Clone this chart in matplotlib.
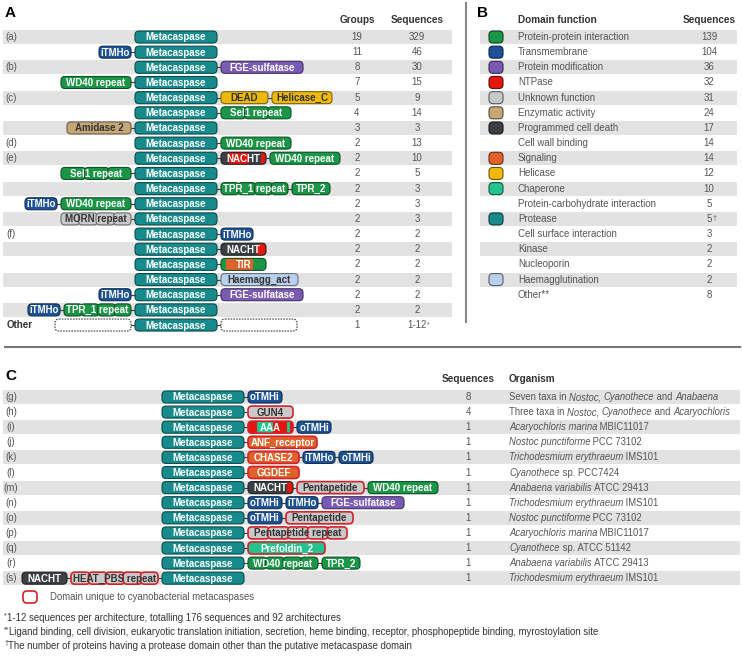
import matplotlib
matplotlib.use('Agg')
import matplotlib.pyplot as plt
from matplotlib.patches import FancyBboxPatch, Rectangle
from matplotlib.colors import to_rgb

plt.rcParams['font.family'] = ['Liberation Sans', 'DejaVu Sans']

# ---------------- data ----------------
# panel A: architectures (domains left / right of the metacaspase domain)
a_tags = ['(a)', '', '(b)', '', '(c)', '', '', '(d)', '(e)', '', '', '', '',
          '(f)', '', '', '', '', '', 'Other']
a_left = [[], ['iTMHo'], [], ['WD40 repeat'], [], [], ['Amidase 2'], [], [],
          ['Sel1 repeat'], [], ['iTMHo', 'WD40 repeat'], ['MORN repeat'], [],
          [], [], [], ['iTMHo'], ['iTMHo', 'TPR_1 repeat'], ['other']]
a_right = [[], [], ['FGE-sulfatase'], [], ['DEAD', 'Helicase_C'], ['Sel1 repeat'],
           [], ['WD40 repeat'], ['NACHT.e', 'WD40 repeat'], [],
           ['TPR_1 repeat', 'TPR_2'], [], [], ['iTMHo'], ['NACHT.f'], ['TIR'],
           ['Haemagg_act'], ['FGE-sulfatase'], [], ['other']]
a_groups = ['19', '11', '8', '7', '5', '4', '3', '2', '2', '2', '2', '2', '2',
            '2', '2', '2', '2', '2', '2', '1']
a_seqs = ['329', '46', '30', '15', '9', '14', '3', '13', '10', '5', '3', '3', '3',
          '2', '2', '2', '2', '2', '2', '1-12']

# panel B: domain functions
b_names = ['Protein-protein interaction', 'Transmembrane', 'Protein modification',
           'NTPase', 'Unknown function', 'Enzymatic activity',
           'Programmed cell death', 'Cell wall binding', 'Signaling', 'Helicase',
           'Chaperone', 'Protein-carbohydrate interaction', 'Protease',
           'Cell surface interaction', 'Kinase', 'Nucleoporin',
           'Haemagglutination', 'Other**']
b_seqs = ['139', '104', '36', '32', '31', '24', '17', '14', '14', '12', '10', '5',
          '5', '3', '2', '2', '2', '8']
b_colors = ['#1a9646', '#1d5396', '#7a5bb4', '#e3170f', '#c9c9c9', '#c6a878',
            '#3c3f43', None, '#e0612a', '#ecb90c', '#22c38c', None, '#178a8c',
            None, None, None, '#b9d0ec', None]

# panel C: cyanobacteria-specific architectures
c_tags = ['(g)', '(h)', '(i)', '(j)', '(k)', '(l)', '(m)', '(n)', '(o)', '(p)',
          '(q)', '(r)', '(s)']
c_left = [[], [], [], [], [], [], [], [], [], [], [], [],
          ['NACHT', 'HEAT_PBS repeat']]
c_right = [['oTMHi'], ['GUN4'], ['AAA', 'oTMHi'], ['ANF_receptor'],
           ['CHASE2', 'iTMHo', 'oTMHi'], ['GGDEF'],
           ['NACHT.m', 'Pentapetide', 'WD40 repeat'],
           ['oTMHi', 'iTMHo', 'FGE-sulfatase'], ['oTMHi', 'Pentapetide'],
           ['Pentapetide repeat'], ['Prefoldin_2'], ['WD40 repeat.r', 'TPR_2'], []]
c_seqs = ['8', '4', '1', '1', '1', '1', '1', '1', '1', '1', '1', '1', '1']
c_org = [
    [('Seven taxa in ', 'normal'), ('Nostoc, ', 'italic'),
     ('Cyanothece', 'italic'), (' and ', 'normal'), ('Anabaena', 'italic')],
    [('Three taxa in ', 'normal'), ('Nostoc, ', 'italic'),
     ('Cyanothece', 'italic'), (' and ', 'normal'), ('Acaryochloris', 'italic')],
    [('Acaryochloris marina', 'italic'), (' MBIC11017', 'normal')],
    [('Nostoc punctiforme', 'italic'), (' PCC 73102', 'normal')],
    [('Trichodesmium erythraeum', 'italic'), (' IMS101', 'normal')],
    [('Cyanothece', 'italic'), (' sp. PCC7424', 'normal')],
    [('Anabaena variabilis', 'italic'), (' ATCC 29413', 'normal')],
    [('Trichodesmium erythraeum', 'italic'), (' IMS101', 'normal')],
    [('Nostoc punctiforme', 'italic'), (' PCC 73102', 'normal')],
    [('Acaryochloris marina', 'italic'), (' MBIC11017', 'normal')],
    [('Cyanothece', 'italic'), (' sp. ATCC 51142', 'normal')],
    [('Anabaena variabilis', 'italic'), (' ATCC 29413', 'normal')],
    [('Trichodesmium erythraeum', 'italic'), (' IMS101', 'normal')],
]

footnotes = [('*', '1-12 sequences per architecture, totalling 176 sequences and 92 architectures'),
             ('**', 'Ligand binding, cell division, eukaryotic translation initiation, secretion, heme binding, receptor, phosphopeptide binding, myrostoylation site'),
             ('\u2020', 'The number of proteins having a protease domain other than the putative metacaspase domain')]

# ---------------- domain styles ----------------
TEAL, BLUE, GREEN, PURPLE = '#178a8c', '#1d5396', '#1a9646', '#7a5bb4'
RED, ORANGE, GREY, DARK = '#e3170f', '#e0612a', '#c9c9c9', '#3c3f43'
UNIQ = '#d2222b'
DOM = {
    'Metacaspase': dict(w=82, fc=TEAL),
    'iTMHo': dict(w=32, fc=BLUE),
    'oTMHi': dict(w=34, fc=BLUE),
    'FGE-sulfatase': dict(w=82, fc=PURPLE),
    'WD40 repeat': dict(w=70, fc=GREEN),
    'WD40 repeat.r': dict(w=70, fc=GREEN, n=4),
    'Sel1 repeat': dict(w=70, fc=GREEN, n=3),
    'TPR_1 repeat': dict(w=67, fc=GREEN, n=4),
    'TPR_2': dict(w=38, fc=GREEN),
    'DEAD': dict(w=47, fc='#ecb90c', tc='#333'),
    'Helicase_C': dict(w=60, fc='#ecb90c', tc='#333'),
    'Amidase 2': dict(w=64, fc='#c6a878', tc='#333'),
    'MORN repeat': dict(w=70, fc=GREY, tc='#333', n=4),
    'NACHT': dict(w=45, fc=DARK),
    'NACHT.e': dict(w=45, fc=DARK, seg=[(0.17, 0.62, RED), (0.88, 1.0, RED)]),
    'NACHT.f': dict(w=45, fc=DARK, seg=[(0.8, 1.0, RED)]),
    'NACHT.m': dict(w=45, fc=DARK, seg=[(0.86, 1.0, RED)]),
    'TIR': dict(w=45, fc=GREEN, seg=[(0.12, 0.7, ORANGE)]),
    'Haemagg_act': dict(w=77, fc='#b9d0ec', tc='#333'),
    'GUN4': dict(w=45, fc=GREY, tc='#333', ec=UNIQ),
    'AAA': dict(w=45, fc=RED, ec=UNIQ, seg=[(0.19, 0.55, '#22c38c'), (0.86, 0.94, '#22c38c')]),
    'ANF_receptor': dict(w=69, fc=ORANGE, ec=UNIQ),
    'CHASE2': dict(w=51, fc=ORANGE, ec=UNIQ),
    'GGDEF': dict(w=51, fc=ORANGE, ec=UNIQ),
    'Pentapetide': dict(w=67, fc=GREY, tc='#333', ec=UNIQ),
    'Pentapetide repeat': dict(w=99, fc=GREY, tc='#333', ec=UNIQ, n=5),
    'Prefoldin_2': dict(w=77, fc='#22c38c', ec=UNIQ),
    'HEAT_PBS repeat': dict(w=87, fc=GREY, tc='#333', ec=UNIQ, n=5),
    'other': dict(w=76, fc='white', ec='#444', ls=(0, (1.5, 1)), label=''),
}

W, H = 742, 658
fig = plt.figure(figsize=(W / 100, H / 100), dpi=100)
ax = fig.add_axes([0, 0, 1, 1])
ax.set_xlim(0, W)
ax.set_ylim(H, 0)
ax.axis('off')
renderer = fig.canvas.get_renderer()

TXT = '#555555'
HDR = '#333333'
BAND = '#e2e2e2'
BH = 12      # domain box height
GAP = 4      # gap between domains
FS = 7.0     # table text
DFS = 7.0    # domain label


def measure(s, **kw):
    t1 = ax.text(0, 0, 'H' + s + 'H', **kw)
    t2 = ax.text(0, 0, 'HH', **kw)
    w = t1.get_window_extent(renderer).width - t2.get_window_extent(renderer).width
    t1.remove()
    t2.remove()
    return w


def darker(c, f=0.55):
    r, g, b = to_rgb(c)
    return (r * f, g * f, b * f)


def box(x, yc, w, fc, ec, lw=0.8, ls='solid', z=3):
    p = FancyBboxPatch((x, yc - BH / 2), w, BH, boxstyle='round,pad=0,rounding_size=4',
                       fc=fc, ec=ec, lw=lw, ls=ls, zorder=z)
    ax.add_patch(p)
    return p


def domain(name, x, yc):
    st = DOM[name]
    w = st['w']
    fc = st['fc']
    ec = st.get('ec', darker(fc))
    lw = 1.2 if st.get('ec') == UNIQ else 0.8
    n = st.get('n', 1)
    if n > 1:
        sw = w / n
        for k in range(n):
            box(x + k * sw, yc, sw + 1.5 if k < n - 1 else sw, fc, ec, lw=lw, z=3 + k * 0.01)
    else:
        base = box(x, yc, w, fc, 'none', lw=0)
        for f0, f1, c in st.get('seg', []):
            r = Rectangle((x + f0 * w, yc - BH / 2), (f1 - f0) * w, BH, fc=c, lw=0, zorder=3.1)
            ax.add_patch(r)
            r.set_clip_path(base)
        box(x, yc, w, 'none', ec, lw=lw, ls=st.get('ls', 'solid'), z=3.2)
    label = st.get('label', name.split('.')[0])
    if label:
        tw = measure(label, fontsize=DFS, fontweight='bold')
        fs = min(DFS, DFS * (w - 2.5) / tw)
        ax.text(x + w / 2, yc + 0.5, label, ha='center', va='center', fontsize=fs,
                fontweight='bold', color=st.get('tc', 'white'), zorder=4)
    return w


def architecture(left, right, mx, yc):
    domain('Metacaspase', mx, yc)
    x = mx + DOM['Metacaspase']['w']
    for d in right:
        ax.plot([x, x + GAP], [yc, yc], color='#444', lw=0.9, zorder=2)
        x += GAP
        x += domain(d, x, yc)
    x = mx
    for d in reversed(left):
        ax.plot([x - GAP, x], [yc, yc], color='#444', lw=0.9, zorder=2)
        x -= GAP + DOM[d]['w']
        domain(d, x, yc)


def sup_after(t, s, size=5):
    bb = t.get_window_extent(renderer)
    ax.text(bb.x1 + 0.3, H - bb.y1 + 1.5, s, fontsize=size, color=t.get_color(),
            ha='left', va='top')


ROW = 15.16

# ---------------- panel A ----------------
ax.text(5, 13, 'A', fontsize=11, fontweight='bold', va='center')
ax.text(357, 20, 'Groups', fontsize=7.2, fontweight='bold', color=HDR, ha='center', va='center')
ax.text(417, 20, 'Sequences', fontsize=7.2, fontweight='bold', color=HDR, ha='center', va='center')
for i in range(len(a_tags)):
    y = 37 + i * ROW
    if i % 2 == 0:
        ax.add_patch(Rectangle((3, y - 7), 449, 14, fc=BAND, lw=0, zorder=1))
    if a_tags[i] == 'Other':
        ax.text(7, y, 'Other', fontsize=FS, fontweight='bold', color=HDR, va='center')
    else:
        ax.text(11, y, a_tags[i], fontsize=FS, color=TXT, ha='center', va='center')
    architecture(a_left[i], a_right[i], 135, y)
    ax.text(357, y, a_groups[i], fontsize=FS, color=TXT, ha='center', va='center')
    t = ax.text(417, y, a_seqs[i], fontsize=FS, color=TXT, ha='center', va='center')
    if a_tags[i] == 'Other':
        sup_after(t, '*')

ax.plot([466, 466], [3, 322], color='#888', lw=1.5)

# ---------------- panel B ----------------
ax.text(477, 13, 'B', fontsize=11, fontweight='bold', va='center')
ax.text(518, 20, 'Domain function', fontsize=7.2, fontweight='bold', color=HDR, va='center')
ax.text(709, 20, 'Sequences', fontsize=7.2, fontweight='bold', color=HDR, ha='center', va='center')
for i in range(len(b_names)):
    y = 37 + i * ROW
    if i % 2 == 0:
        ax.add_patch(Rectangle((480, y - 7), 257, 14, fc=BAND, lw=0, zorder=1))
    if b_colors[i] is not None:
        c = b_colors[i]
        ax.add_patch(FancyBboxPatch((489, y - 6), 14, 12, boxstyle='round,pad=0,rounding_size=4',
                                    fc=c, ec=darker(c, 0.45), lw=0.8, zorder=3))
    ax.text(518, y, b_names[i], fontsize=FS, color=TXT, va='center')
    t = ax.text(709, y, b_seqs[i], fontsize=FS, color=TXT, ha='center', va='center')
    if b_names[i] == 'Protease':
        sup_after(t, '\u2020')

ax.plot([5, 740], [347, 347], color='#777', lw=1.5)

# ---------------- panel C ----------------
ax.text(5, 376, 'C', fontsize=11, fontweight='bold', va='center')
ax.text(468, 379, 'Sequences', fontsize=7.2, fontweight='bold', color=HDR, ha='center', va='center')
ax.text(509, 379, 'Organism', fontsize=7.2, fontweight='bold', color=HDR, va='center')
for i in range(len(c_tags)):
    y = 397 + i * 15.1
    if i % 2 == 0:
        ax.add_patch(Rectangle((3, y - 7), 737, 14, fc=BAND, lw=0, zorder=1))
    ax.text(11, y, c_tags[i], fontsize=FS, color=TXT, ha='center', va='center')
    architecture(c_left[i], c_right[i], 162, y)
    ax.text(468, y, c_seqs[i], fontsize=FS, color=TXT, ha='center', va='center')
    x = 509
    for s, style in c_org[i]:
        ax.text(x, y, s, fontsize=6.85, color=TXT, style=style, va='center')
        x += measure(s, fontsize=6.85, style=style)

# legend + footnotes
ax.add_patch(FancyBboxPatch((23, 591), 14, 12, boxstyle='round,pad=0,rounding_size=4',
                            fc='white', ec=UNIQ, lw=1.2))
ax.text(50, 597, 'Domain unique to cyanobacterial metacaspases', fontsize=6.95,
        color=TXT, va='center')
for k, (mark, s) in enumerate(footnotes):
    y = 618 + k * 14
    ax.text(4, y - 2.5, mark, fontsize=5, color=HDR, va='center')
    ax.text(4 + measure(mark, fontsize=5), y, s, fontsize=6.9, color=HDR, va='center')

fig.savefig('out.png', dpi=100)
